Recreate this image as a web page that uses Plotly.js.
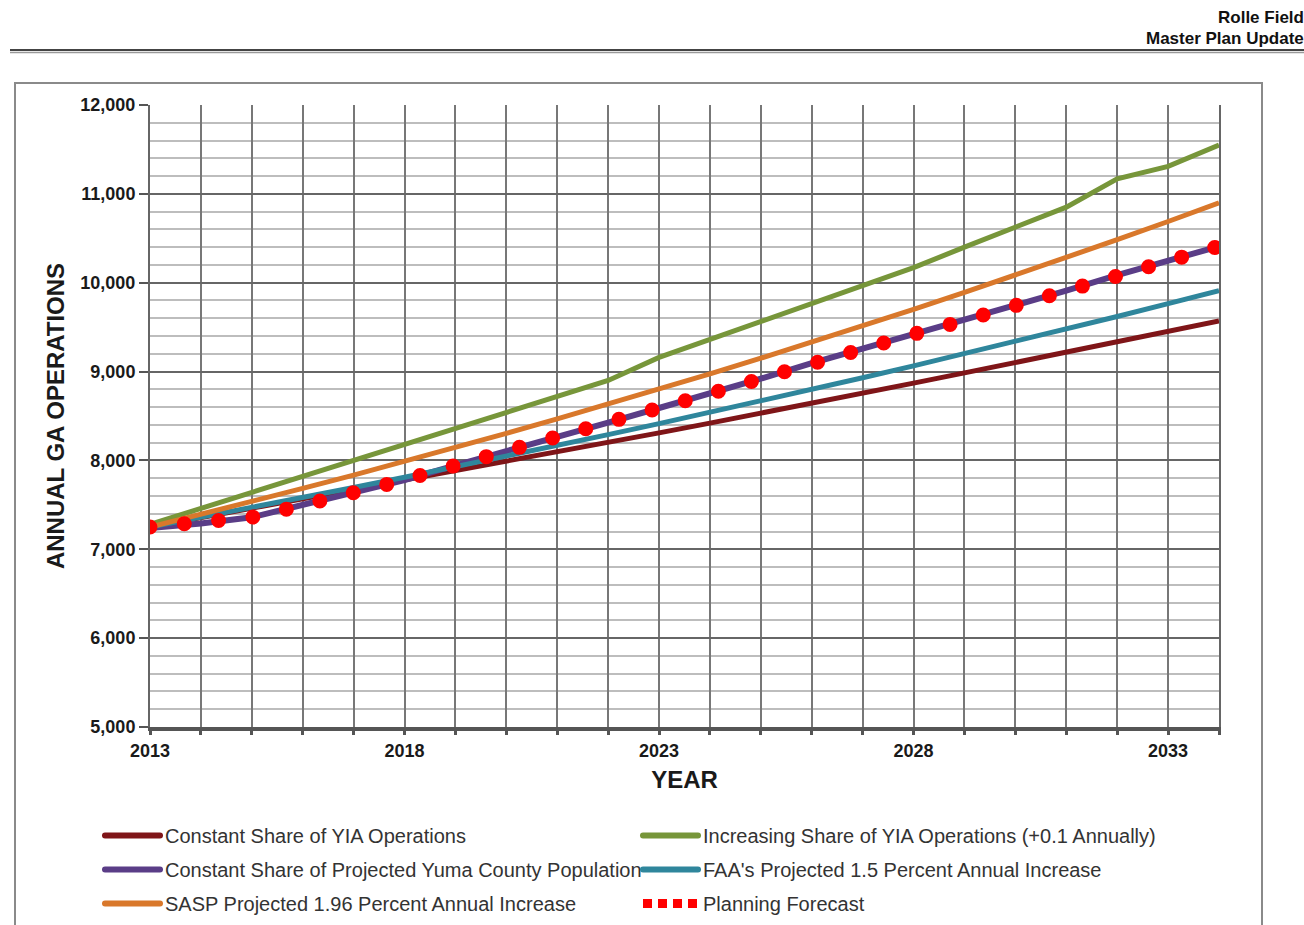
<!DOCTYPE html>
<html>
<head>
<meta charset="utf-8">
<script src="https://cdn.plot.ly/plotly-3.0.1.min.js"></script>
<style>
  html, body { margin: 0; padding: 0; background: #ffffff; }
  #chart { width: 1304px; height: 925px; }
</style>
</head>
<body>
<div id="chart"></div>
<script>
// ---- data ----
const years = [2013,2014,2015,2016,2017,2018,2019,2020,2021,2022,2023,2024,2025,2026,2027,2028,2029,2030,2031,2032,2033,2034];
const xTickVals = [2013,2014,2015,2016,2017,2018,2019,2020,2021,2022,2023,2024,2025,2026,2027,2028,2029,2030,2031,2032,2033,2034];
const xTickText = ['2013','','','','','2018','','','','','2023','','','','','2028','','','','','2033',''];

const constantShareYIA = [7250,7355,7460,7565,7670,7775,7885,7990,8095,8200,8310,8420,8530,8640,8755,8870,8985,9100,9215,9330,9450,9570];
const increasingShareYIA = [7280,7460,7640,7820,8000,8180,8360,8540,8720,8900,9160,9360,9560,9760,9960,10170,10400,10620,10850,11170,11310,11550];
const constantSharePop = [7240,7290,7360,7495,7630,7780,7945,8100,8270,8425,8590,8750,8920,9095,9255,9420,9575,9745,9910,10085,10245,10410];
const faaProjected = [7250,7359,7469,7581,7695,7810,7927,8046,8167,8290,8414,8540,8668,8798,8930,9064,9200,9338,9478,9620,9765,9911];
const saspProjected = [7250,7392,7537,7685,7835,7989,8145,8305,8468,8634,8803,8975,9151,9331,9514,9700,9890,10084,10282,10484,10689,10899];
const planningForecast = [7250,7290,7360,7495,7630,7780,7945,8100,8270,8425,8590,8750,8920,9095,9255,9420,9575,9745,9910,10085,10245,10410];

const names = [
  'Constant Share of YIA Operations',
  'Increasing Share of YIA Operations (+0.1 Annually)',
  'Constant Share of Projected Yuma County Population',
  "FAA's Projected 1.5 Percent Annual Increase",
  'SASP Projected 1.96 Percent Annual Increase',
  'Planning Forecast'
];

// ---- layout helpers (pixel -> paper) ----
const L = 150, R = 85, T = 105, B = 198, W = 1304, H = 925;
const PW = W - L - R, PH = H - T - B;
const px = v => (v - L) / PW;
const py = v => (H - B - v) / PH;

const FAM = 'Liberation Sans, Arial, sans-serif';
const legendFont = {family: FAM, size: 20, color: '#333333'};
const PLAN_COLOR = '#ff0000';

const traces = [
  {x: years, y: constantShareYIA, name: names[0], mode: 'lines', line: {color: '#7f1518', width: 5}, legend: 'legend', legendgroup: 'a'},
  {x: years, y: increasingShareYIA, name: names[1], mode: 'lines', line: {color: '#77963a', width: 5}, legend: 'legend2', legendgroup: 'b'},
  {x: years, y: constantSharePop, name: names[2], mode: 'lines', line: {color: '#5a3d87', width: 6}, legend: 'legend', legendgroup: 'c'},
  {x: years, y: faaProjected, name: names[3], mode: 'lines', line: {color: '#2f869c', width: 5}, legend: 'legend2', legendgroup: 'd'},
  {x: years, y: saspProjected, name: names[4], mode: 'lines', line: {color: '#d9782b', width: 5}, legend: 'legend', legendgroup: 'e'},
  {x: years, y: planningForecast, name: names[5], mode: 'lines', line: {color: PLAN_COLOR, width: 15, dash: '0px,34.45px'}, legend: 'legend2', legendgroup: 'f'}
];

const layout = {
  width: W, height: H,
  margin: {l: L, r: R, t: T, b: B, pad: 0, autoexpand: false},
  paper_bgcolor: '#ffffff',
  plot_bgcolor: '#ffffff',
  font: {family: FAM, color: '#1a1a1a'},
  showlegend: true,
  xaxis: {
    range: [2013, 2034],
    tickvals: xTickVals,
    ticktext: xTickText,
    showgrid: true, gridcolor: '#777777', gridwidth: 2,
    zeroline: false,
    showline: true, linecolor: '#555555', linewidth: 4,
    ticks: 'outside', ticklen: 4, tickwidth: 3, tickcolor: '#555555',
    tickfont: {family: FAM, size: 18, color: '#1a1a1a', weight: 'bold'},
    title: {text: 'YEAR', font: {family: FAM, size: 24, color: '#1a1a1a', weight: 'bold'}, standoff: 13},
    automargin: false,
    fixedrange: true
  },
  yaxis: {
    range: [5000, 12000],
    dtick: 1000, tick0: 5000,
    tickformat: ',d',
    showgrid: true, gridcolor: '#666666', gridwidth: 2,
    minor: {dtick: 200, showgrid: true, gridcolor: '#bdbdbd', gridwidth: 2, ticks: ''},
    zeroline: false,
    showline: true, linecolor: '#666666', linewidth: 2, mirror: true,
    ticks: 'outside', ticklen: 9, tickwidth: 2, tickcolor: '#555555',
    tickfont: {family: FAM, size: 18, color: '#1a1a1a', weight: 'bold'},
    title: {text: 'ANNUAL GA OPERATIONS', font: {family: FAM, size: 24, color: '#1a1a1a', weight: 'bold'}, standoff: 9},
    automargin: false,
    fixedrange: true
  },
  legend: {
    x: px(100), xanchor: 'left', y: py(816), yanchor: 'top',
    orientation: 'v', traceorder: 'grouped', tracegroupgap: 5,
    itemwidth: 55, font: legendFont, bgcolor: 'rgba(0,0,0,0)', borderwidth: 0
  },
  legend2: {
    x: px(638), xanchor: 'left', y: py(816), yanchor: 'top',
    orientation: 'v', traceorder: 'grouped', tracegroupgap: 5,
    itemwidth: 55, font: legendFont, bgcolor: 'rgba(0,0,0,0)', borderwidth: 0
  },
  shapes: [
    {type: 'rect', xref: 'paper', yref: 'paper', x0: px(15), x1: px(1262), y0: py(940), y1: py(83),
     line: {color: '#8a8a8a', width: 2}, fillcolor: 'rgba(0,0,0,0)', layer: 'below'},
    {type: 'line', xref: 'paper', yref: 'paper', x0: px(10), x1: px(1304), y0: py(50), y1: py(50),
     line: {color: '#444444', width: 2}},
    {type: 'line', xref: 'paper', yref: 'paper', x0: px(10), x1: px(1304), y0: py(52.5), y1: py(52.5),
     line: {color: '#9a9a9a', width: 1.5}}
  ],
  annotations: [
    {xref: 'paper', yref: 'paper', x: px(1306), y: py(17), xanchor: 'right', yanchor: 'middle', showarrow: false,
     text: 'Rolle Field', font: {family: FAM, size: 17, color: '#111111', weight: 'bold'}},
    {xref: 'paper', yref: 'paper', x: px(1306), y: py(38), xanchor: 'right', yanchor: 'middle', showarrow: false,
     text: 'Master Plan Update', font: {family: FAM, size: 17, color: '#111111', weight: 'bold'}}
  ]
};

function isRed(p) {
  const s = (p.style.stroke || p.getAttribute('stroke') || '').replace(/\s/g, '').toLowerCase();
  return s === 'rgb(255,0,0)' || s === '#ff0000' || s === 'red';
}

Plotly.newPlot('chart', traces, layout, {staticPlot: true, displayModeBar: false}).then(function (gd) {
  // round dots for the planning forecast line
  gd.querySelectorAll('.scatterlayer path.js-line').forEach(function (p) {
    if (isRed(p)) p.style.strokeLinecap = 'round';
  });
  // legend samples
  gd.querySelectorAll('.legendlines path').forEach(function (p) {
    if (isRed(p)) {
      p.style.strokeWidth = '9px';
      p.style.strokeDasharray = '9px,6px';
      p.style.strokeLinecap = 'butt';
    } else {
      p.style.strokeWidth = '6px';
      p.style.strokeLinecap = 'round';
    }
  });
});
</script>
</body>
</html>
